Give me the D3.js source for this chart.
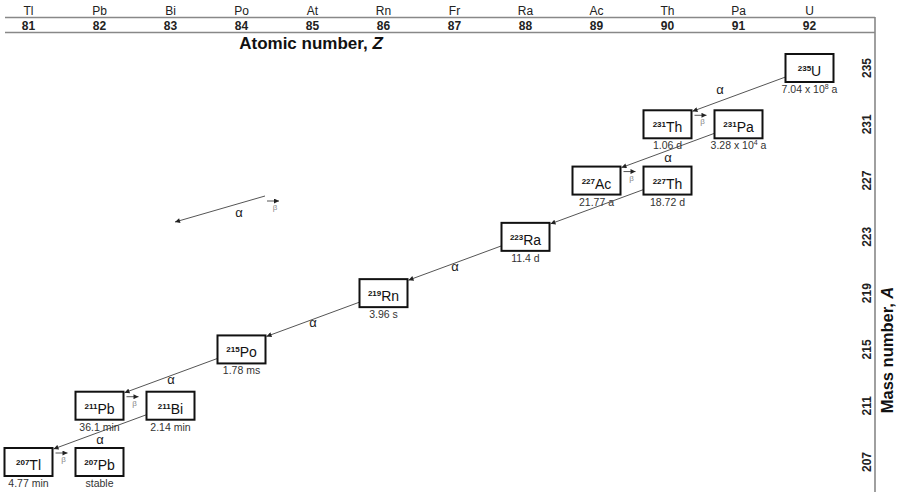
<!DOCTYPE html>
<html><head><meta charset="utf-8">
<script src="https://cdn.jsdelivr.net/npm/d3@7"></script>
<style>
body{margin:0;background:#fff}
svg{display:block;font-family:"Liberation Sans",Arial,sans-serif}
</style>
</head><body>
<svg id="chart" width="901" height="492"></svg>
<script>
// ---- data ----
const elementSymbols = ["Tl","Pb","Bi","Po","At","Rn","Fr","Ra","Ac","Th","Pa","U"];
const atomicNumbers  = [81,82,83,84,85,86,87,88,89,90,91,92];
const massTicks      = [207,211,215,219,223,227,231,235];

const nuclideSymbols = ["U","Th","Pa","Ac","Th","Ra","Rn","Po","Pb","Bi","Tl","Pb"];
const nuclideZ       = [92,90,91,89,90,88,86,84,82,83,81,82];
const nuclideA       = [235,231,231,227,227,223,219,215,211,211,207,207];
const halfLives      = ["7.04 x 10^8 a","1.06 d","3.28 x 10^4 a","21.77 a","18.72 d","11.4 d",
                        "3.96 s","1.78 ms","36.1 min","2.14 min","4.77 min","stable"];

// alpha decays: [from index, to index, label placement]
const alphaDecays = [[0,1,"above"],[2,3,"below"],[4,5,null],[5,6,"below"],[6,7,"below"],[7,8,"below"],[9,10,"below"]];
// beta decays: [from index, to index]
const betaDecays  = [[1,2],[3,4],[8,9],[10,11]];

// ---- layout ----
const svg = d3.select("#chart");
const x = d3.scaleLinear().domain([81,92]).range([28.5,809.5]);
const y = d3.scaleLinear().domain([235,207]).range([68,462]);
const bw = 48, bh = 28;
const frameRight = 875;
const lineCol = "#555";
const hlOffset = bh/2 + 11;   // half-life baseline below box centre

const defs = svg.append("defs");
defs.append("marker").attr("id","arr").attr("viewBox","0 0 10 10")
  .attr("refX",10).attr("refY",5).attr("markerWidth",7).attr("markerHeight",5)
  .attr("markerUnits","userSpaceOnUse").attr("orient","auto")
  .append("path").attr("d","M0,0L10,5L0,10z").attr("fill","#222");

// frame lines
svg.append("line").attr("x1",5).attr("x2",frameRight).attr("y1",17.5).attr("y2",17.5)
  .attr("stroke","#888").attr("stroke-width",1.6);
svg.append("line").attr("x1",5).attr("x2",frameRight).attr("y1",32.5).attr("y2",32.5)
  .attr("stroke","#888").attr("stroke-width",1.6);
svg.append("line").attr("x1",frameRight).attr("x2",frameRight).attr("y1",17).attr("y2",492)
  .attr("stroke","#888").attr("stroke-width",1.6);

// top axis: element symbols and atomic numbers
const topG = svg.append("g");
topG.selectAll("text.sym").data(atomicNumbers).join("text").attr("class","sym")
  .attr("x",d=>x(d)).attr("y",14.5).attr("text-anchor","middle")
  .attr("font-size",12).attr("fill","#222").text((d,i)=>elementSymbols[i]);
topG.selectAll("text.num").data(atomicNumbers).join("text").attr("class","num")
  .attr("x",d=>x(d)).attr("y",29.5).attr("text-anchor","middle")
  .attr("font-size",12).attr("font-weight","bold").attr("fill","#222").text(d=>d);
const zt = svg.append("text").attr("x",311).attr("y",49).attr("text-anchor","middle")
  .attr("font-size",17).attr("font-weight","bold").attr("fill","#111");
zt.append("tspan").text("Atomic number, ");
zt.append("tspan").attr("font-style","italic").text("Z");

// right axis
svg.selectAll("text.mass").data(massTicks).join("text").attr("class","mass")
  .attr("transform",d=>`translate(871,${y(d)}) rotate(-90)`)
  .attr("text-anchor","middle").attr("font-size",12).attr("font-weight","bold")
  .attr("fill","#222").text(d=>d);
const at = svg.append("text").attr("transform","translate(893,350) rotate(-90)")
  .attr("text-anchor","middle").attr("font-size",16.5).attr("font-weight","bold").attr("fill","#111");
at.append("tspan").text("Mass number, ");
at.append("tspan").attr("font-style","italic").text("A");

// alpha decay arrows
alphaDecays.forEach(([f,t,lab])=>{
  const x1 = x(nuclideZ[f]) - bw/2, y1 = y(nuclideA[f]) + 9;
  const x2 = x(nuclideZ[t]) + bw/2 + 1, y2 = y(nuclideA[t]) - bh/2 + 1;
  svg.append("line").attr("x1",x1).attr("y1",y1).attr("x2",x2).attr("y2",y2)
    .attr("stroke",lineCol).attr("stroke-width",1).attr("marker-end","url(#arr)");
  if(lab){
    const mx=(x1+x2)/2, my=(y1+y2)/2;
    let lx = mx, ly = my + 8;
    if(lab==="above"){ lx = mx-19; ly = my; }
    else {
      // keep clear of a half-life text lying in the same column
      nuclideZ.forEach((z,i)=>{
        const hb = y(nuclideA[i]) + hlOffset;
        if(Math.abs(x(z)-lx) < 30 && ly > hb - 2 && ly - hb < 13) ly = hb + 13;
      });
    }
    svg.append("text").attr("x",lx).attr("y",ly)
      .attr("text-anchor","middle").attr("font-size",13).attr("fill","#222").text("α");
  }
});

// beta decay arrows
function betaArrow(xl, yy){
  svg.append("line").attr("x1",xl).attr("x2",xl+12).attr("y1",yy).attr("y2",yy)
    .attr("stroke",lineCol).attr("stroke-width",1).attr("marker-end","url(#arr)");
  svg.append("text").attr("x",xl+8).attr("y",yy+9).attr("text-anchor","middle")
    .attr("font-size",8).attr("fill","#888").text("β");
}
betaDecays.forEach(([f,t])=>{
  betaArrow(x(nuclideZ[f]) + bw/2 + 3, y(nuclideA[f]) - 9);
});

// legend (alpha & beta arrow)
svg.append("line").attr("x1",265).attr("y1",196).attr("x2",175).attr("y2",222)
  .attr("stroke",lineCol).attr("stroke-width",1).attr("marker-end","url(#arr)");
svg.append("text").attr("x",239).attr("y",217).attr("text-anchor","middle")
  .attr("font-size",13).attr("fill","#222").text("α");
betaArrow(267, 201);

// nuclide boxes
const nodes = nuclideSymbols.map((s,i)=>({s, Z:nuclideZ[i], A:nuclideA[i], h:halfLives[i]}));
const ng = svg.selectAll("g.nuc").data(nodes).join("g").attr("class","nuc")
  .attr("transform",d=>`translate(${x(d.Z)},${y(d.A)})`);
ng.append("rect").attr("x",-bw/2).attr("y",-bh/2).attr("width",bw).attr("height",bh)
  .attr("fill","#fff").attr("stroke","#111").attr("stroke-width",2);
ng.each(function(d){
  const t = d3.select(this).append("text").attr("x",0).attr("y",8).attr("text-anchor","middle").attr("fill","#111");
  t.append("tspan").attr("font-size",8).attr("font-weight","bold").attr("dy",-5).text(d.A);
  t.append("tspan").attr("font-size",14).attr("dy",5).text(d.s);
  const h = d3.select(this).append("text").attr("x",0).attr("y",hlOffset).attr("text-anchor","middle")
    .attr("font-size",10.5).attr("fill","#333");
  const m = d.h.match(/^(.*)\^(\d+)(.*)$/);
  if(m){
    h.append("tspan").text(m[1]);
    h.append("tspan").attr("font-size",7).attr("dy",-4).text(m[2]);
    h.append("tspan").attr("dy",4).text(m[3]);
  } else h.text(d.h);
});
</script>
</body></html>
